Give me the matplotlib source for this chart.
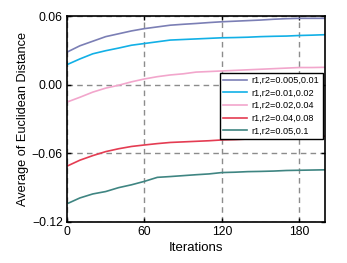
import matplotlib
matplotlib.use("Agg")
import matplotlib.pyplot as plt

plt.rcParams['font.family'] = ['Liberation Sans', 'DejaVu Sans']

iters = [1, 10, 20, 30, 40, 50, 60, 70, 80, 90, 100, 110, 120, 130, 140, 150, 160, 170, 180, 190, 200]
s1 = [0.029, 0.034, 0.038, 0.042, 0.0445, 0.047, 0.049, 0.0505, 0.052, 0.0528, 0.0535, 0.0543, 0.055, 0.0555, 0.056, 0.0565, 0.0572, 0.0577, 0.058, 0.058, 0.058]
s2 = [0.018, 0.0225, 0.027, 0.0297, 0.032, 0.0345, 0.036, 0.0375, 0.039, 0.0395, 0.040, 0.0405, 0.041, 0.0412, 0.0415, 0.042, 0.0423, 0.0425, 0.043, 0.0433, 0.0437]
s3 = [-0.0148, -0.011, -0.0065, -0.003, -0.0005, 0.0025, 0.005, 0.007, 0.0085, 0.0095, 0.011, 0.0115, 0.012, 0.0125, 0.013, 0.0135, 0.014, 0.0145, 0.015, 0.015, 0.0152]
s4 = [-0.0707, -0.066, -0.062, -0.0585, -0.056, -0.054, -0.0527, -0.0515, -0.0505, -0.05, -0.0495, -0.049, -0.0483, -0.048, -0.0475, -0.047, -0.0465, -0.046, -0.0457, -0.0453, -0.045]
s5 = [-0.1036, -0.099, -0.0955, -0.0934, -0.09, -0.0875, -0.0845, -0.081, -0.0803, -0.0795, -0.0787, -0.078, -0.0768, -0.0765, -0.076, -0.0758, -0.0755, -0.075, -0.0748, -0.0746, -0.0744]
labels = ["r1,r2=0.005,0.01", "r1,r2=0.01,0.02", "r1,r2=0.02,0.04", "r1,r2=0.04,0.08", "r1,r2=0.05,0.1"]
colors = ["#7b7fb5", "#12b0e6", "#f2a6cc", "#e43c52", "#3f8582"]

xticks = [0, 60, 120, 180]
yticks = [-0.12, -0.06, 0.00, 0.06]
ytick_labels = ["\u22120.12", "\u22120.06", "0.00", "0.06"]

fig = plt.figure(figsize=(3.47, 2.63), dpi=100)
ax = fig.add_axes([0.193, 0.156, 0.744, 0.783])

for s, lab, c in zip([s1, s2, s3, s4, s5], labels, colors):
    ax.plot(iters, s, color=c, lw=1.2, label=lab)

ax.set_xlim(0, 200)
ax.set_ylim(-0.12, 0.06)
ax.set_xticks(xticks)
ax.set_yticks(yticks)
ax.set_yticklabels(ytick_labels)
ax.grid(True, color='#8c8c8c', ls=(0, (4, 3)), lw=1.0)
ax.tick_params(direction='in', top=True, right=True, labelsize=8.8, length=3, width=1, pad=3)
for sp in ax.spines.values():
    sp.set_linewidth(1.2)
ax.set_xlabel("Iterations", fontsize=9.5, labelpad=3)
ax.set_ylabel("Average of Euclidean Distance", fontsize=9.2, labelpad=2)

leg = ax.legend(loc='upper right', bbox_to_anchor=(0.99, 0.725), fontsize=6.6,
                frameon=True, fancybox=False, framealpha=1, edgecolor='black',
                handlelength=2.6, borderpad=0.35, labelspacing=0.4, handletextpad=0.5,
                borderaxespad=0)
leg.get_frame().set_linewidth(1.0)

fig.savefig("out.png", dpi=100)
